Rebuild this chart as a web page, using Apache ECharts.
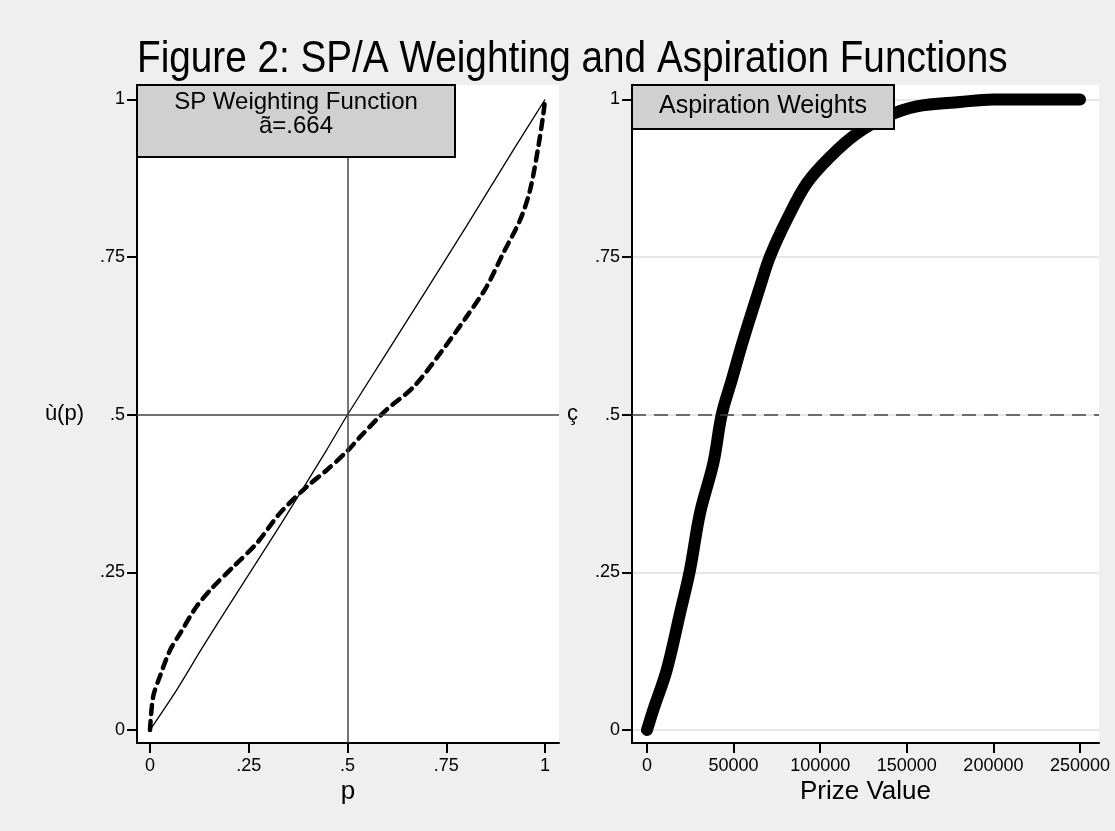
<!DOCTYPE html>
<html>
<head>
<meta charset="utf-8">
<script src="https://cdn.jsdelivr.net/npm/echarts@6/dist/echarts.min.js"></script>
<style>
  body { margin: 0; background: #efefef; }
  #chart { width: 1115px; height: 831px; }
</style>
</head>
<body>
<div id="chart"></div>
<script>
// left panel: the thin reference line and the dashed SP weighting curve
const thinP = [0, 0.067, 0.127, 0.169, 0.236, 0.333, 0.447, 0.5, 0.7, 0.8, 0.92, 1];
const thinW = [0, 0.063, 0.125, 0.167, 0.233, 0.328, 0.444, 0.5, 0.698, 0.798, 0.92, 1];
const dashP = [0, 0.008, 0.025, 0.051, 0.076, 0.118, 0.16, 0.211, 0.27, 0.329, 0.397, 0.447, 0.502,
  0.532, 0.599, 0.667, 0.734, 0.802, 0.852, 0.894, 0.937, 0.962, 0.983, 0.996, 1];
const dashW = [0, 0.053, 0.085, 0.127, 0.153, 0.196, 0.227, 0.259, 0.296, 0.344, 0.386, 0.412, 0.444,
  0.465, 0.508, 0.544, 0.597, 0.656, 0.703, 0.756, 0.809, 0.856, 0.925, 0.978, 1];
// right panel: aspiration weights against prize value
const prize = [0, 3640, 11370, 19050, 24830, 30600, 38280, 43130, 48900, 55600, 65240, 71020,
  80660, 92200, 105660, 121070, 138390, 155720, 180720, 199960, 250000];
const aspW = [0, 0.032, 0.095, 0.185, 0.254, 0.344, 0.423, 0.5, 0.555, 0.619, 0.703, 0.751,
  0.809, 0.867, 0.909, 0.946, 0.973, 0.989, 0.996, 1, 1];
// tick labels
const pTicks = [0, 0.25, 0.5, 0.75, 1];
const wTicks = [0, 0.25, 0.5, 0.75, 1];
const prizeTicks = [0, 50000, 100000, 150000, 200000, 250000];

const font = '"Liberation Sans", Arial, sans-serif';
const zip = (xs, ys) => xs.map((x, i) => [x, ys[i]]);
const dotFmt = v => String(v).replace(/^0\./, '.');

function xAxisOf(idx, min, max, ticks, name) {
  return {
    type: 'value', gridIndex: idx, min: min, max: max,
    name: name, nameLocation: 'middle', nameGap: 36, nameMoveOverlap: false,
    nameTextStyle: { fontSize: 26, color: '#000', fontFamily: font },
    axisLine: { show: true, onZero: false, lineStyle: { color: '#000', width: 2 } },
    axisTick: { show: true, length: 10, customValues: ticks, lineStyle: { color: '#000', width: 2 } },
    axisLabel: { customValues: ticks, margin: 14, fontSize: 18, color: '#000', fontFamily: font,
      formatter: dotFmt, hideOverlap: false },
    splitLine: { show: false }
  };
}

function yAxisOf(idx, name, gap, grid) {
  return {
    type: 'value', gridIndex: idx, min: -0.0206, max: 1.023,
    name: name, nameLocation: 'middle', nameRotate: 0, nameGap: gap, nameMoveOverlap: false,
    nameTextStyle: { fontSize: 22, color: '#000', fontFamily: font },
    axisLine: { show: true, onZero: false, lineStyle: { color: '#000', width: 2 } },
    axisTick: { show: true, length: 10, customValues: wTicks, lineStyle: { color: '#000', width: 2 } },
    axisLabel: { customValues: wTicks, margin: 12, fontSize: 18, color: '#000', fontFamily: font,
      formatter: dotFmt, hideOverlap: false },
    splitLine: { show: grid, lineStyle: { color: '#e6e6e6', width: 2 } }
  };
}

const chart = echarts.init(document.getElementById('chart'));
const option = {
  backgroundColor: '#efefef',
  animation: false,
  grid: [
    { left: 137, right: 556, top: 85, bottom: 88, show: true, backgroundColor: '#fff', borderWidth: 0 },
    { left: 632, right: 16, top: 85, bottom: 88, show: true, backgroundColor: '#fff', borderWidth: 0 }
  ],
  xAxis: [
    xAxisOf(0, -0.0329, 1.0354, pTicks, 'p'),
    xAxisOf(1, -8660, 260970, prizeTicks, 'Prize Value')
  ],
  yAxis: [
    yAxisOf(0, 'ù(p)', 53, false),
    yAxisOf(1, 'ç', 54, true)
  ],
  series: [
    {
      type: 'line', xAxisIndex: 0, yAxisIndex: 0, data: zip(thinP, thinW),
      symbol: 'none', smooth: 0.2, lineStyle: { color: '#000', width: 1.3 },
      markLine: {
        silent: true, symbol: 'none', label: { show: false },
        lineStyle: { color: '#444', width: 1.5, type: 'solid' },
        data: [{ yAxis: 0.5 }, { xAxis: 0.5 }]
      }
    },
    {
      type: 'line', xAxisIndex: 0, yAxisIndex: 0, data: zip(dashP, dashW),
      symbol: 'none', smooth: 0.3,
      lineStyle: { color: '#000', width: 4.5, type: [9, 7], cap: 'round' }
    },
    {
      type: 'line', xAxisIndex: 1, yAxisIndex: 1, data: zip(prize, aspW),
      symbol: 'none', smooth: 0.35,
      lineStyle: { color: '#000', width: 12, cap: 'round', join: 'round' },
      markLine: {
        silent: true, symbol: 'none', label: { show: false },
        lineStyle: { color: '#444', width: 1.5, type: [14, 8] },
        data: [{ yAxis: 0.5 }]
      }
    }
  ],
  graphic: [
    // main title, a little condensed like the original
    { type: 'text', z: 101, x: 137, y: 60, scaleX: 0.86,
      style: { text: 'Figure 2: SP/A Weighting and Aspiration Functions', fontSize: 45, fontFamily: font,
        fill: '#000', align: 'left', verticalAlign: 'middle' } },
    { type: 'rect', z: 100, shape: { x: 137, y: 85, width: 318, height: 72 },
      style: { fill: '#d0d0d0', stroke: '#000', lineWidth: 2 } },
    { type: 'text', z: 101, x: 296, y: 114,
      style: { text: 'SP Weighting Function\nã=.664', fontSize: 24, lineHeight: 24, fontFamily: font,
        fill: '#000', align: 'center', verticalAlign: 'middle' } },
    { type: 'rect', z: 100, shape: { x: 632, y: 85, width: 262, height: 44 },
      style: { fill: '#d0d0d0', stroke: '#000', lineWidth: 2 } },
    { type: 'text', z: 101, x: 763, y: 106,
      style: { text: 'Aspiration Weights', fontSize: 25, fontFamily: font,
        fill: '#000', align: 'center', verticalAlign: 'middle' } }
  ]
};
chart.setOption(option);
</script>
</body>
</html>
